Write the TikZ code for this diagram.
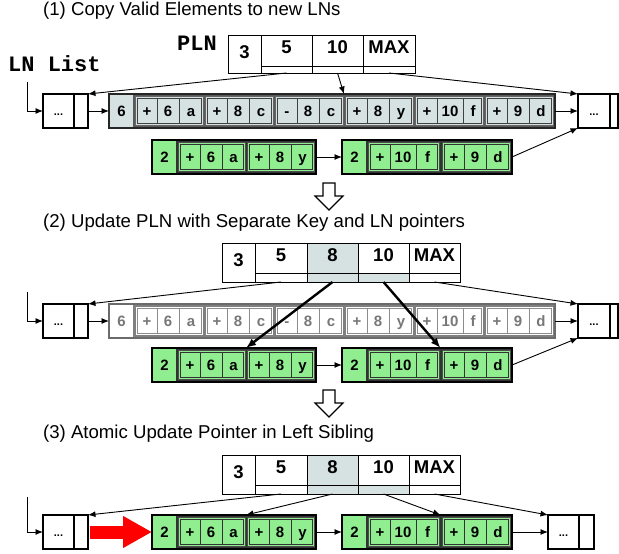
\documentclass[tikz,border=0pt]{standalone}
\usepackage{fontspec}
\setmainfont{Liberation Sans}
\newfontfamily\monob{Liberation Mono}
\usetikzlibrary{arrows.meta,calc}
\definecolor{lnblue}{RGB}{214,226,226}
\definecolor{lngreen}{RGB}{144,238,144}
\definecolor{fadegray}{RGB}{120,120,120}
\newcommand{\RH}{34}
\tikzset{
  base/.style={inner sep=0pt, outer sep=0pt, anchor=north west},
  bigg/.style={base, draw=black!85, fill=black!65, line width=2pt},
  bigG/.style={base, draw=black, fill=black!80, line width=2.2pt},
  bigf/.style={base, draw=black!58, fill=black!50, line width=2pt},
  headg/.style={base, fill=lnblue},
  headG/.style={base, fill=lngreen},
  headf/.style={base, fill=white},
  grpg/.style={base, fill=lnblue, draw=black!60, line width=0.6pt},
  grpG/.style={base, fill=lngreen, draw=black!70, line width=0.6pt},
  grpf/.style={base, fill=white, draw=black!50, line width=0.6pt},
  ing/.style={draw=black!75, line width=0.6pt},
  inG/.style={draw=black!80, line width=0.6pt},
  inf/.style={draw=black!45, line width=0.6pt},
  txtbase/.style={inner sep=0pt, text height=10.7pt, text depth=0pt, font=\fontsize{15}{17}\selectfont\bfseries},
  txtg/.style={txtbase, text=black},
  txtG/.style={txtbase, text=black},
  txtf/.style={txtbase, text=fadegray},
  lncell/.style={base, draw=black, fill=white, line width=2pt},
  lndots/.style={anchor=base, inner sep=0pt, font=\fontsize{11}{12}\selectfont\bfseries},
  plnbox/.style={base, draw=black, line width=0.9pt},
  plntxt/.style={inner sep=0pt, text height=13.2pt, text depth=0pt, font=\fontsize{18.5}{20}\selectfont\bfseries},
  title/.style={anchor=base west, inner sep=0pt, font=\fontsize{18.6}{20}\selectfont},
  monolabel/.style={anchor=base west, inner sep=0pt, font=\monob\bfseries\fontsize{22}{24}\selectfont},
  conn/.style={-{Latex[length=7.5pt,width=6pt]}, line width=0.9pt},
  thickconn/.style={-{Latex[length=10pt,width=8pt]}, line width=2.4pt},
  redarrow/.style={draw=red, line width=13pt, -{Triangle[length=29pt,width=30pt]}, shorten <=1.5pt},
  hollow/.style={draw=black, fill=white, line width=1.1pt, line join=miter},
}
% big row node: name, x1, x2, y, variant, head text
\newcommand{\bigrow}[6]{%
  \node[big#5, minimum width={(#3-#2)*1pt}, minimum height={\RH*1pt}] (#1) at (#2,#4) {};
  \node[head#5, minimum width=23pt, minimum height={(\RH-2)*1pt}] (#1h) at (#2+1,#4+1) {};
  \node[txt#5] (#1t) at (#2+12.5,#4+\RH/2) {#6};
}
% group: name, x, y, width, middle width, a, b, c, variant
\newcommand{\grp}[9]{%
  \node[grp#9, minimum width={#4*1pt}, minimum height={(\RH-5)*1pt}] (#1) at (#2,#3+2.5) {};
  \draw[in#9] ($(#1.north west)+(1.8,1.8)$) rectangle ($(#1.south east)+(-1.8,-1.8)$);
  \draw[in#9] (#2+22,#3+4.3) -- (#2+22,#3+\RH-4.3);
  \draw[in#9] (#2+22+#5,#3+4.3) -- (#2+22+#5,#3+\RH-4.3);
  \node[txt#9] (#1a) at (#2+11.9,#3+\RH/2) {#6};
  \node[txt#9] (#1b) at ({#2+22+#5/2},#3+\RH/2) {#7};
  \node[txt#9] (#1c) at ({#2+22+#5+(#4-22-#5)/2},#3+\RH/2) {#8};
}
% LN node: name, x1, x2, x3, y
\newcommand{\lnnode}[5]{%
  \node[lncell, minimum width={(#3-#2)*1pt}, minimum height={\RH*1pt}] (#1) at (#2,#5) {};
  \node[lncell, minimum width={(#4-#3)*1pt}, minimum height={\RH*1pt}] (#1p) at (#3,#5) {};
  \node[lndots] (#1t) at ({(#2+#3)/2},#5+\RH/2+4) {...};
}
% PLN cell: name, x1, x2, ytop, ystrip, ybot, text, fill upper, fill strip
\newcommand{\plncell}[9]{%
  \node[plnbox, fill=#8, minimum width={(#3-#2)*1pt}, minimum height={(#5-#4)*1pt}] (#1) at (#2,#4) {};
  \node[plnbox, fill=#9, minimum width={(#3-#2)*1pt}, minimum height={(#6-#5)*1pt}] (#1s) at (#2,#5) {};
  \node[plntxt] (#1t) at ({(#2+#3)/2},#4+12) {#7};
}
\begin{document}
\begin{tikzpicture}[x=1pt,y=-1pt]
\useasboundingbox (0,0) rectangle (619,554);

% ---------- titles and labels
\node[title] (t1) at (43,16) {(1) Copy Valid Elements to new LNs};
\node[title] (t2) at (43,227) {(2) Update PLN with Separate Key and LN pointers};
\node[title] (t3) at (43,438) {(3) Atomic Update Pointer in Left Sibling};
\node[monolabel] (plnlab) at (177,50) {PLN};
\node[monolabel] (lnlist) at (8,71) {LN List};

% ================= Section 1
\node[plnbox, fill=white, minimum width=33pt, minimum height=38pt] (a3) at (228,35) {};
\node[plntxt] (a3t) at (244.5,51.5) {3};
\plncell{a5}{261}{312}{35}{66}{73}{5}{white}{white}
\plncell{a10}{312}{363}{35}{66}{73}{10}{white}{white}
\plncell{aMAX}{363}{415}{35}{66}{73}{MAX}{white}{white}

\lnnode{l1}{43}{74}{88}{94}
\bigrow{g1}{109}{555}{94}{g}{6}
\grp{g1a}{135}{94}{68}{22}{+}{6}{a}{g}
\grp{g1b}{205}{94}{68}{22}{+}{8}{c}{g}
\grp{g1c}{275}{94}{68}{22}{-}{8}{c}{g}
\grp{g1d}{345}{94}{68}{22}{+}{8}{y}{g}
\grp{g1e}{415}{94}{68}{26}{+}{10}{f}{g}
\grp{g1f}{485}{94}{68}{22}{+}{9}{d}{g}
\lnnode{r1}{578}{610}{618}{94}

\bigrow{h1}{152}{316}{140}{G}{2}
\grp{h1a}{178}{140}{67}{22}{+}{6}{a}{G}
\grp{h1b}{247}{140}{67}{22}{+}{8}{y}{G}
\bigrow{k1}{342}{512}{140}{G}{2}
\grp{k1a}{368}{140}{71}{26}{+}{10}{f}{G}
\grp{k1b}{442}{140}{68}{22}{+}{9}{d}{G}

\coordinate (e1) at (27,82);
\coordinate (g1cd) at ($(g1c.north east)!0.5!(g1d.north west)$);
\draw[conn] (e1) |- (l1.west);
\draw[conn] (a5s.south) -- (l1p.north east);
\draw[conn] (a10s.south) -- (g1cd |- g1.north);
\draw[conn] (aMAXs.south) -- (r1.north west);
\draw[conn] (l1p.east) -- (g1.west);
\draw[conn] (g1.east) -- (r1.west);
\draw[conn] (h1.east) -- (k1.west);
\draw[conn] (k1.east) -- (r1.south west);

\draw[hollow] (323,183) -- (335,183) -- (335,196) -- (343,196) -- (329,210) -- (315,196) -- (323,196) -- cycle;

% ================= Section 2
\node[plnbox, fill=white, minimum width=33pt, minimum height=39pt] (b3) at (222,243) {};
\node[plntxt] (b3t) at (238.5,259.5) {3};
\plncell{b5}{255}{307}{243}{273}{282}{5}{white}{white}
\plncell{b8}{307}{358}{243}{273}{282}{8}{lnblue}{lnblue}
\plncell{b10}{358}{409}{243}{273}{282}{10}{white}{lnblue}
\plncell{bMAX}{409}{460}{243}{273}{282}{MAX}{white}{white}

\lnnode{l2}{43}{74}{88}{304}
\bigrow{g2}{109}{555}{304}{f}{6}
\grp{g2a}{135}{304}{68}{22}{+}{6}{a}{f}
\grp{g2b}{205}{304}{68}{22}{+}{8}{c}{f}
\grp{g2c}{275}{304}{68}{22}{-}{8}{c}{f}
\grp{g2d}{345}{304}{68}{22}{+}{8}{y}{f}
\grp{g2e}{415}{304}{68}{26}{+}{10}{f}{f}
\grp{g2f}{485}{304}{68}{22}{+}{9}{d}{f}
\lnnode{r2}{578}{610}{618}{304}

\bigrow{h2}{152}{316}{348}{G}{2}
\grp{h2a}{178}{348}{67}{22}{+}{6}{a}{G}
\grp{h2b}{247}{348}{67}{22}{+}{8}{y}{G}
\bigrow{k2}{342}{512}{348}{G}{2}
\grp{k2a}{368}{348}{71}{26}{+}{10}{f}{G}
\grp{k2b}{442}{348}{68}{22}{+}{9}{d}{G}

\coordinate (e2) at (27,292);
\coordinate (h2ab) at ($(h2a.north east)!0.5!(h2b.north west)$);
\coordinate (k2ab) at ($(k2a.north east)!0.5!(k2b.north west)$);
\draw[conn] (e2) |- (l2.west);
\draw[conn] (b5s.south) -- (l2p.north east);
\draw[thickconn] (b8s.south) -- (h2ab |- h2.north);
\draw[thickconn] (b10s.south) -- (k2ab |- k2.north);
\draw[conn] (bMAXs.south) -- (r2.north west);
\draw[conn] (l2p.east) -- (g2.west);
\draw[conn] (g2.east) -- (r2.west);
\draw[conn] (h2.east) -- (k2.west);
\draw[conn] (k2.east) -- (r2.south west);

\draw[hollow] (323,390) -- (335,390) -- (335,403) -- (343,403) -- (329,417) -- (315,403) -- (323,403) -- cycle;

% ================= Section 3
\node[plnbox, fill=white, minimum width=33pt, minimum height=39pt] (c3) at (222,455) {};
\node[plntxt] (c3t) at (238.5,471.5) {3};
\plncell{c5}{255}{307}{455}{485}{494}{5}{white}{white}
\plncell{c8}{307}{358}{455}{485}{494}{8}{lnblue}{lnblue}
\plncell{c10}{358}{409}{455}{485}{494}{10}{white}{lnblue}
\plncell{cMAX}{409}{460}{455}{485}{494}{MAX}{white}{white}

\lnnode{l3}{43}{74}{88}{515}
\bigrow{h3}{152}{316}{515}{G}{2}
\grp{h3a}{178}{515}{67}{22}{+}{6}{a}{G}
\grp{h3b}{247}{515}{67}{22}{+}{8}{y}{G}
\bigrow{k3}{342}{512}{515}{G}{2}
\grp{k3a}{368}{515}{71}{26}{+}{10}{f}{G}
\grp{k3b}{442}{515}{68}{22}{+}{9}{d}{G}
\lnnode{r3}{548}{579}{594}{515}

\coordinate (e3) at (27,497);
\coordinate (h3ab) at ($(h3a.north east)!0.5!(h3b.north west)$);
\coordinate (k3ab) at ($(k3a.north east)!0.5!(k3b.north west)$);
\draw[conn] (e3) |- (l3.west);
\draw[conn] (c5s.south) -- (l3p.north east);
\draw[conn] (c8s.south) -- (h3ab |- h3.north);
\draw[conn] (c10s.south) -- (k3ab |- k3.north);
\draw[conn] (cMAXs.south) -- (r3.north west);
\draw[redarrow] (l3p.east) -- (h3.west);
\draw[conn] (h3.east) -- (k3.west);
\draw[conn] (k3.east) -- (r3.west);
\end{tikzpicture}
\end{document}
